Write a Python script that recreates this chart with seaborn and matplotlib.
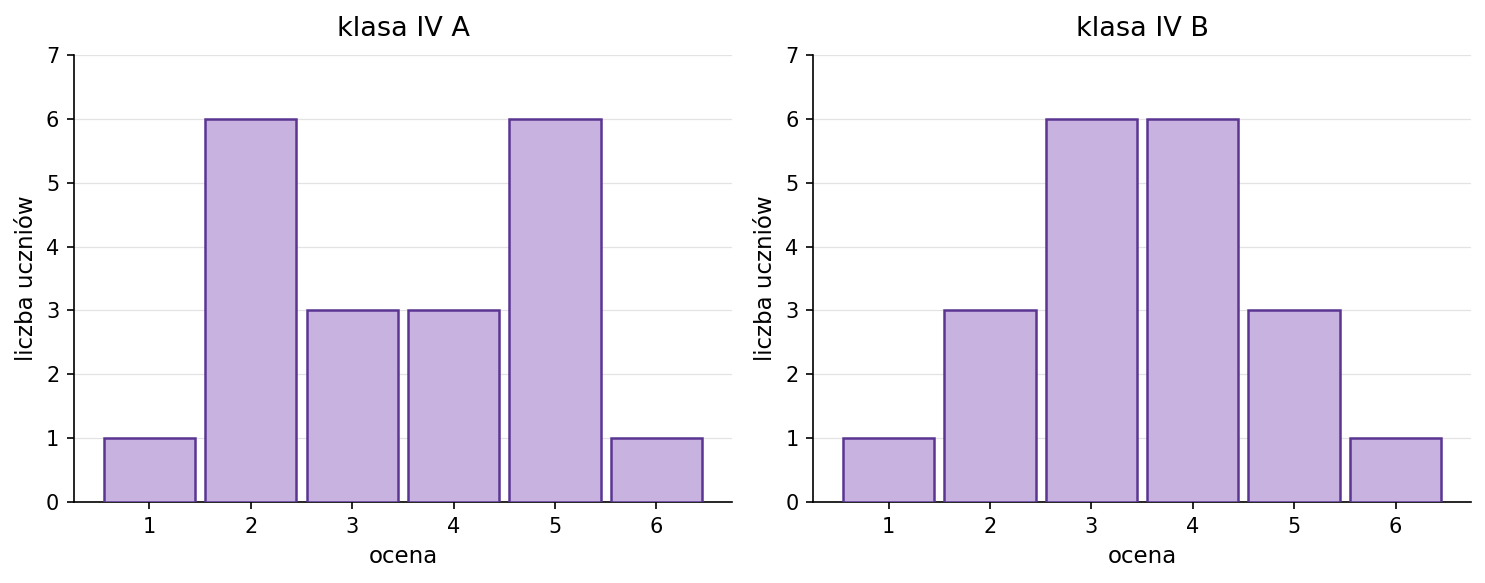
import matplotlib
matplotlib.use("Agg")
import matplotlib.pyplot as plt
import seaborn as sns
import pandas as pd

grades = [1, 2, 3, 4, 5, 6]
counts_a = [1, 6, 3, 3, 6, 1]
counts_b = [1, 3, 6, 6, 3, 1]
titles = ["klasa IV A", "klasa IV B"]

sns.set_style("ticks", {"axes.edgecolor": "black", "text.color": "black",
                        "axes.labelcolor": "black", "xtick.color": "black",
                        "ytick.color": "black"})
plt.rcParams['font.family'] = ['DejaVu Sans']

fig = plt.figure(figsize=(9.9, 3.887), dpi=150)
ax1 = fig.add_axes([0.0498, 0.1389, 0.4431, 0.7668])
ax2 = fig.add_axes([0.5475, 0.1389, 0.4431, 0.7668])

for ax, counts, title in zip([ax1, ax2], [counts_a, counts_b], titles):
    df = pd.DataFrame({"ocena": [str(g) for g in grades], "n": counts})
    sns.barplot(data=df, x="ocena", y="n", ax=ax, width=0.9,
                color="#c8b2df", edgecolor="#5a3592", linewidth=1.2,
                saturation=1, zorder=3)
    ax.set_xlim(-0.745, 5.745)
    ax.set_ylim(0, 7)
    ax.set_yticks(range(0, 8))
    ax.yaxis.grid(True, color="#e3e3e3", linewidth=0.6, zorder=0)
    ax.set_axisbelow(True)
    ax.set_title(title, fontsize=13, pad=9)
    ax.set_xlabel("ocena", fontsize=11)
    ax.set_ylabel("liczba uczniów", fontsize=11)
    ax.tick_params(labelsize=10, colors="black")
    sns.despine(ax=ax)

fig.savefig("out.png", dpi=150)
